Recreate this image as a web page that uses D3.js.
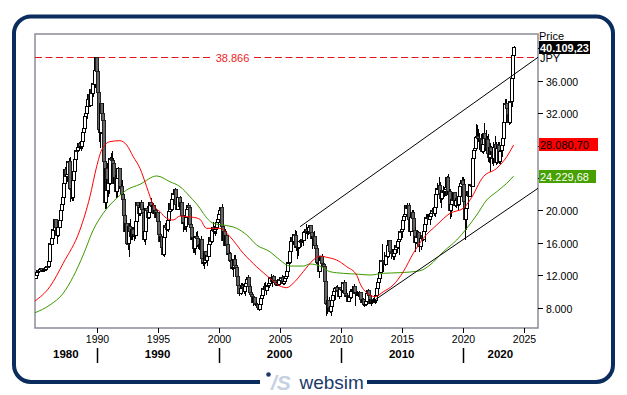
<!DOCTYPE html>
<html><head><meta charset="utf-8">
<script src="https://cdn.jsdelivr.net/npm/d3@7"></script>
<style>body{margin:0;background:#fff}svg{display:block}text{font-family:"Liberation Sans",Arial,sans-serif}</style>
</head><body><svg id="c" width="627" height="395"></svg>
<script>
// Monthly candles, Jan 1985 .. Mar 2024 (open = previous month's close)
const startYear = 1985;
const firstOpen = 11543;
const closes = [
11992,12322,12580,12426,12690,12882,12475,12636,12700,12748,12944,13113,
13024,13641,15860,15825,16577,17654,17561,18821,17852,16910,17853,18701,
20048,20766,21567,23275,25086,24176,24489,26029,26011,22765,22687,21564,
23719,24857,26261,27434,27418,27769,28298,27911,27924,28532,29579,30159,
31581,31986,32839,33714,34266,32949,34954,34431,35637,35549,37269,38916,
37189,34592,29980,29585,33131,31940,31036,25978,20984,25194,22455,23849,
23293,26409,26292,26111,25790,23291,24121,22336,23916,25222,22687,22984,
22023,21339,19346,17391,18348,15952,15910,18061,17399,16767,17684,16925,
17024,16953,18591,20919,20552,19591,20380,21027,20106,19703,16408,17417,
20229,19997,19112,19726,20974,20644,20449,20629,19564,19990,19076,19723,
18650,17053,16140,16807,15437,14517,16678,18117,17913,17655,18744,19868,
20813,20125,21407,22041,21956,22531,20693,20167,21556,20467,21020,19361,
18330,18557,18003,19151,20068,20604,20331,18229,17888,16459,16636,15258,
16628,16831,16527,15641,15671,15831,16379,14108,13406,13565,14884,13842,
14499,14368,15837,16702,16112,17530,17862,17437,17605,17942,18558,18934,
19540,19960,20337,17974,16332,17411,15727,16861,15747,14539,14649,13786,
13844,12884,12999,13934,13262,12969,11861,10714,9775,10367,10697,10543,
9998,10588,11025,11493,11764,10622,9878,9619,9383,8640,9216,8579,
8340,8363,7973,7831,8425,9083,9563,10344,10219,10560,10101,10677,
10784,11042,11715,11761,11236,11858,11326,11082,10824,10771,10899,11489,
11388,11741,11669,11009,11277,11584,11900,12414,13574,13607,14872,16111,
16650,16205,17060,16906,15467,15505,15457,16141,16128,16399,16274,17226,
17383,17604,17288,17400,17876,18138,17249,16569,16786,16738,15681,15308,
13592,13603,12526,13850,14338,13481,13377,13073,11260,8577,8512,8860,
7994,7568,8110,8828,9523,9958,10357,10493,10133,10035,9345,10546,
10198,10126,11090,11057,9769,9383,9537,8824,9369,9202,9937,10229,
10238,10624,9755,9850,9694,9816,9833,8955,8700,8988,8435,8455,
8803,9723,10084,9521,8543,9007,8695,8840,8870,8928,9446,10395,
11139,11559,12398,13861,13775,13677,13668,13389,14456,14328,15662,16291,
14915,14841,14828,14304,14632,15162,15621,15425,16174,16414,17460,17451,
17674,18798,19207,19520,20563,20236,20585,18890,17388,19083,19747,19034,
17518,16027,16759,16666,17235,15576,16569,16887,16450,17425,18308,19114,
19041,19119,18909,19197,19651,20033,19925,19646,20356,22012,22725,22765,
23098,22068,21454,22468,22202,22305,22554,22865,24120,21920,22351,20015,
20773,21385,21206,22259,20601,21276,21522,20704,21756,22927,23294,23657,
23205,21143,18917,20194,21878,22288,21710,23140,23185,22977,26434,27444,
27663,28966,29179,28813,28860,28792,27284,28090,29453,28893,27822,28792,
27002,26527,27821,26848,27280,26393,27802,28092,25937,27587,27969,26095,
27327,27446,28041,28856,30888,33189,33172,32619,31858,30859,33487,33464,
36287,39166,40109.23];
const highs = [
12040,12380,12620,12640,12780,12950,12900,12700,12760,12870,13080,13130,
13180,13680,15900,16250,16700,17700,18100,18940,18700,17950,17900,18820,
20100,20900,21800,23500,25300,25900,24700,26100,26500,26650,23600,23200,
23800,25000,26300,27500,27600,27900,28400,28600,28200,28600,29800,30200,
31700,32400,32900,33800,34300,34300,35000,35100,35700,35800,37300,38957,
38700,37400,34600,30400,33300,33200,33300,31100,26000,25300,25800,24300,
24100,26600,27100,27270,26500,25900,24400,24200,24300,25300,25200,23300,
23800,22400,21600,19500,18800,18500,16500,18400,18900,17600,17900,17900,
17300,17500,18600,20950,21100,20600,20400,21300,21100,20700,19800,17900,
20300,20600,20100,19800,21000,21500,20900,20900,20700,20100,20200,19800,
19800,18800,17200,17000,16900,15500,16800,18500,18500,18000,18800,19900,
20900,20900,21500,22400,22400,22750,22600,21300,21600,21800,21300,21100,
19400,18800,18900,19200,20200,20900,20700,20400,18500,17900,16800,16900,
16700,17300,17400,16500,15900,15900,16800,16500,14400,13900,15000,15000,
14500,14500,16400,16900,16900,17600,18600,18100,18000,17950,18600,18950,
19600,20000,20400,20833,18000,17500,17700,16900,16900,15800,15100,14900,
14100,14000,13300,14500,14500,13600,13000,11900,10900,11100,11100,10900,
10900,10600,11650,11600,11980,11800,10900,10300,9800,9400,9250,9250,
8800,8600,8500,8200,8500,9100,10000,10400,11000,11200,10600,10700,
11000,11100,11800,12200,11900,11990,11900,11300,11200,11200,11100,11500,
11600,11800,12000,11900,11300,11600,11900,12500,13600,13900,14900,16200,
16800,16600,17100,17600,17500,15800,15600,16300,16500,16800,16500,17300,
17600,18300,17600,17600,17900,18200,18262,17300,16800,17500,16600,16000,
15200,14100,13600,13900,14400,14600,13600,13400,12800,11200,9500,8900,
9300,7900,8700,9000,9600,10200,10400,10700,10800,10300,10100,10600,
10900,10400,11100,11400,11200,10300,9800,9600,9600,9700,10100,10300,
10600,10900,10700,9900,10000,9900,10100,9900,9100,9200,9000,8700,
8900,9800,10250,10200,9600,9100,9100,9200,9300,9000,9500,10400,
11200,11700,12600,13900,15900,13800,14900,14400,14900,14800,15700,16320,
16100,15000,15300,15000,14700,15400,15700,15600,16400,16500,17500,18030,
17800,18800,19800,20100,20600,20952,20700,20900,18800,19200,20000,20000,
18900,17900,17300,17600,17400,17200,16800,17000,17100,17500,18600,19600,
19600,19600,19700,19300,19900,20300,20200,20100,20400,22000,23400,23000,
24129,23500,22500,22500,23000,22900,22900,23000,24300,24448,22700,22700,
20900,21500,21800,22300,22300,21400,21800,21500,22100,22900,23600,24100,
24100,23900,21500,20400,21900,23100,23000,23300,23600,23700,26800,27600,
28900,30714,30500,30000,29500,29400,28900,28400,30795,29400,29900,29200,
29400,27500,28300,28000,27400,28400,27900,29200,28500,27600,28500,28400,
27500,27700,28600,28900,31400,33772,33753,33000,33300,32500,33800,33900,
36500,39426,40314];
const lows = [
11540,11900,12260,12310,12350,12610,12440,12390,12480,12510,12640,12850,
12880,12980,13580,15150,15700,16500,17000,17300,17500,15830,16680,17790,
18600,19800,20500,21500,22700,23800,23500,24400,25100,21036,21400,21200,
21200,23600,24700,26200,26900,27200,27600,27600,27300,27600,28400,29400,
30100,31200,31300,32600,33400,32700,32900,34000,34000,34500,35100,37000,
36300,34000,28500,27700,29400,31300,30500,23400,20200,20221,22300,21700,
22000,23100,25500,25300,24900,23200,22800,21500,21500,23700,22400,21400,
21100,20600,18900,16600,17200,15700,15100,14309,17100,16400,16400,16700,
16200,16500,16800,18500,20100,19300,19300,20200,19900,19400,16100,15700,
17300,19700,19000,18900,19700,20300,20200,20300,19500,19600,19000,18900,
17800,16800,15500,15300,15300,14400,14295,16500,17300,17400,17300,18600,
19600,19800,19900,21300,21600,21800,20400,20100,20000,20400,20300,19100,
17300,17600,17600,17300,19000,19900,19900,18200,17200,16100,14800,14700,
14500,16300,16000,15300,15100,15000,15800,14000,13200,12787,13500,13600,
13100,13900,14200,15700,16000,16000,17300,17100,16900,17100,17800,18200,
18400,19300,19300,17400,15800,16000,15600,15600,15700,14000,14100,13400,
13200,12700,11800,12800,12900,12500,11600,10600,9382,9600,10100,10000,
9700,9420,10400,10900,11300,10500,9800,9100,9000,8200,8300,8500,
8300,8100,7800,7603,7800,8400,9100,9400,9900,10300,9600,10100,
10500,10400,10900,11400,10500,11000,11000,10700,10800,10700,10700,10800,
11200,11300,11500,10800,10800,11100,11500,11800,12400,13100,13600,14800,
15300,15700,15800,16500,15000,14000,14400,15200,15500,16000,15600,16300,
16900,17100,16500,17000,17100,17800,17100,15200,15800,16300,14800,14900,
12600,13000,11700,12400,13700,13400,12700,12600,11100,6994,7200,7900,
7700,7300,7021,8100,8600,9400,9000,10200,9900,9700,9100,9500,
10100,9800,10100,10900,9400,9300,9100,8800,8800,9100,9100,9900,
10200,10200,8227,9400,9400,9300,9600,8600,8300,8400,8100,8200,
8300,8800,9700,9300,8500,8238,8400,8600,8600,8500,8600,9400,
10400,10900,11400,12000,13500,12400,13600,13200,13300,13800,14100,15500,
14900,13995,14200,13900,13900,14600,15000,14800,15300,14500,16400,16600,
16600,17600,18600,19000,19400,19800,19100,17714,16901,17400,19000,18600,
16000,14865,15900,15500,16200,14864,15100,16000,16200,16300,16100,18200,
18600,18800,18800,18200,19200,19700,19800,19300,19200,20400,21900,22100,
22800,20950,20300,21300,21900,21700,21800,21800,22300,20900,21000,18948,
19200,20300,20900,21300,20400,20300,21000,20100,20600,21300,23000,23000,
22900,20900,16358,17600,19600,21500,21700,21700,22700,22900,22900,26000,
27000,27500,28300,28400,27400,28300,27100,26950,28000,27300,27600,27500,
26000,25800,24681,26300,25700,25500,26000,27500,25600,25700,27500,25700,
25700,26900,26600,27400,28900,31300,32000,31300,31700,30500,30700,32200,
32700,35800,39100];

// Moving averages: [year, value]
const redMA = [[1984.95,8830],[1986.17,10590],[1987.26,13480],[1988.63,17580],[1989.45,21690],
[1990.0,25390],[1990.41,27450],[1991.09,28480],[1991.91,28600],[1992.46,28070],[1993.0,26630],
[1993.55,25200],[1994.10,22930],[1994.64,20670],[1995.19,19840],[1995.74,19030],[1996.28,18820],
[1996.83,19310],[1997.38,19230],[1997.92,19150],[1998.47,18900],[1999.0,17790],[2000.11,17790],
[2000.93,16760],[2002.02,14710],[2003.11,13060],[2004.20,11630],[2005.02,10680],[2005.57,10470],
[2006.11,11010],[2006.93,12440],[2007.75,13880],[2008.30,14380],[2008.85,14220],[2009.67,13880],
[2010.49,13060],[2011.31,12030],[2011.58,11010],[2012.40,9570],[2012.81,9360],[2013.49,9970],
[2014.31,10800],[2015.13,12440],[2015.95,14710],[2016.77,16560],[2017.87,18200],[2018.96,19640],
[2020.05,20260],[2020.60,21290],[2021.69,24160],[2022.79,25200],[2023.61,26630],[2024.17,28080.70]];
const greenMA = [[1984.95,7380],[1986.17,8330],[1987.26,9780],[1988.08,11820],[1988.90,14500],
[1989.72,17580],[1990.54,19640],[1991.64,21500],[1992.46,22520],[1993.55,23220],[1994.92,24250],
[1996.01,23540],[1996.83,22930],[1997.65,21690],[1998.47,20260],[1998.74,19640],[1999.56,18410],
[2000.38,18200],[2001.48,17790],[2002.30,16970],[2003.11,15740],[2004.20,14910],[2005.02,13880],
[2005.84,13140],[2006.93,13140],[2007.48,13390],[2008.30,13140],[2009.13,12440],[2010.21,12240],
[2011.58,12120],[2012.40,12030],[2013.49,12240],[2014.86,12320],[2016.50,12560],[2017.32,13270],
[2018.41,14910],[2019.51,16350],[2020.33,17790],[2021.15,19440],[2021.97,21290],[2022.79,22310],
[2023.61,23350],[2024.17,24229.68]];

// Trend channel lines: [year, value]
const channelUpper = [[2006.67,17990],[2026.17,38890]];
const channelLower = [[2012.40,8540],[2026.17,22730]];

const hLineValue = 38866;
const lastPrice = 40109.23, redLast = 28080.70, greenLast = 24229.68;
const yTicks = [8000,12000,16000,20000,24000,28000,32000,36000,40000];
const yTickLabels = [8000,12000,16000,20000,32000,36000]; // others hidden behind value boxes
const xTicks = [1990,1995,2000,2005,2010,2015,2020,2025];
const decades = [1980,1990,2000,2010,2020];

const svg = d3.select("#c");
const L=35,R=538,T=34,B=328;
const x = d3.scaleLinear().domain([1984.95,2026.17]).range([L,R]);
const y = d3.scaleLinear().domain([5496,41762]).range([B,T]);
const loc = d3.formatLocale({decimal:",",thousands:".",grouping:[3],currency:["",""]});
const f0 = loc.format(",.0f"), f2 = loc.format(",.2f");

// outer frame
svg.append("rect").attr("x",14).attr("y",16.5).attr("width",599).attr("height",365.5)
  .attr("rx",17).attr("fill","none").attr("stroke","#0b2d5e").attr("stroke-width",4);

svg.append("defs").append("clipPath").attr("id","clip").append("rect")
  .attr("x",L).attr("y",T).attr("width",R-L).attr("height",B-T);

// plot border
svg.append("rect").attr("x",L).attr("y",T).attr("width",R-L).attr("height",B-T)
  .attr("fill","#fff").attr("stroke","#8c8c9a").attr("stroke-width",1.5);

const g = svg.append("g").attr("clip-path","url(#clip)");

// dashed horizontal line with label
const yh = Math.round(y(hLineValue))+0.5;
[[L,211],[254,R]].forEach(s=>g.append("line").attr("x1",s[0]).attr("x2",s[1]).attr("y1",yh).attr("y2",yh)
  .attr("stroke","#e8141c").attr("stroke-width",1).attr("stroke-dasharray","7,3.5"));
svg.append("text").attr("x",232.5).attr("y",yh+4).attr("text-anchor","middle")
  .attr("font-size",11).attr("fill","#f01c24").text(f0(hLineValue));

// candles
const candles = closes.map((c,i)=>({t:startYear+(i+0.5)/12,o:i?closes[i-1]:firstOpen,c:c,h:highs[i],l:lows[i]}));
const cg = g.append("g").attr("shape-rendering","crispEdges");
candles.forEach(d=>{
  const cx = Math.round(x(d.t));
  const up = d.c>=d.o;
  cg.append("line").attr("x1",cx+0.5).attr("x2",cx+0.5).attr("y1",y(d.h)).attr("y2",y(d.l))
    .attr("stroke","#000").attr("stroke-width",1);
  const y1=y(Math.max(d.o,d.c)), y2=y(Math.min(d.o,d.c));
  cg.append("rect").attr("x",cx-1.5).attr("y",y1).attr("width",3).attr("height",Math.max(1,y2-y1))
    .attr("fill",up?"#fff":"#666").attr("stroke",up?"#000":"#222").attr("stroke-width",1);
});

// moving averages
const line = d3.line().x(d=>x(d[0])).y(d=>y(d[1])).curve(d3.curveMonotoneX);
g.append("path").datum(greenMA).attr("d",line).attr("fill","none").attr("stroke","#3c9a00").attr("stroke-width",1);
g.append("path").datum(redMA).attr("d",line).attr("fill","none").attr("stroke","#ff0000").attr("stroke-width",1);

// channel
const sl = d3.line().x(d=>x(d[0])).y(d=>y(d[1]));
[channelUpper,channelLower].forEach(c=>g.append("path").datum(c).attr("d",sl)
  .attr("fill","none").attr("stroke","#000").attr("stroke-width",1));

// y axis (right)
yTicks.forEach(v=>{
  const yy=Math.round(y(v))+0.5;
  svg.append("line").attr("x1",R).attr("x2",R+5).attr("y1",yy).attr("y2",yy).attr("stroke","#000");
});
yTickLabels.forEach(v=>{
  const yy=Math.round(y(v))+0.5;
  svg.append("text").attr("x",R+8).attr("y",yy+4).attr("font-size",10.5).text(f0(v));
});
svg.append("text").attr("x",539).attr("y",40).attr("font-size",11).text("Price");
svg.append("text").attr("x",540).attr("y",62).attr("font-size",11).text("JPY");
function box(v,w,fill,tc,bold,txt){
  const yy=y(v);
  svg.append("rect").attr("x",539).attr("y",Math.round(yy-6.5)).attr("width",w).attr("height",13).attr("fill",fill);
  svg.append("text").attr("x",540).attr("y",Math.round(yy-6.5)+10.5).attr("font-size",11)
    .attr("font-weight",bold?"bold":"normal").attr("fill",tc).text(txt);
}
box(lastPrice,51,"#000","#fff",true,f2(lastPrice));
box(redLast,59,"#ff0000","#000",false,f2(redLast));
box(greenLast,57,"#46a000","#fff",false,f2(greenLast));

// x axis
xTicks.forEach(t=>{
  const xx=Math.round(x(t))+0.5;
  svg.append("line").attr("x1",xx).attr("x2",xx).attr("y1",B).attr("y2",B+5).attr("stroke","#000");
  svg.append("text").attr("x",xx).attr("y",342.5).attr("text-anchor","middle").attr("font-size",10.5).text(t);
});
decades.forEach(dcd=>{
  const a = Math.max(L,x(dcd)), b = Math.min(R,x(dcd+10));
  if(x(dcd)>L){
    const xx=Math.round(x(dcd))+0.5;
    svg.append("line").attr("x1",xx).attr("x2",xx).attr("y1",348).attr("y2",363).attr("stroke","#000").attr("stroke-width",1.5);
  }
  svg.append("text").attr("x",(a+b)/2).attr("y",357.5).attr("text-anchor","middle")
    .attr("font-size",11.5).attr("font-weight","bold").text(dcd);
});

// logo in bottom frame
svg.append("rect").attr("x",260).attr("y",376).attr("width",107).attr("height",14).attr("fill","#fff");
svg.append("circle").attr("cx",268.5).attr("cy",374.5).attr("r",2.3).attr("fill","#1b3a6b");
svg.append("text").attr("x",271).attr("y",389.5).attr("font-size",21).attr("font-weight","bold")
  .attr("font-style","italic").attr("fill","#c5d0e1").text("/S");
svg.append("text").attr("x",299.5).attr("y",389).attr("font-size",19).attr("fill","#1b3a6b").text("websim");
</script></body></html>
